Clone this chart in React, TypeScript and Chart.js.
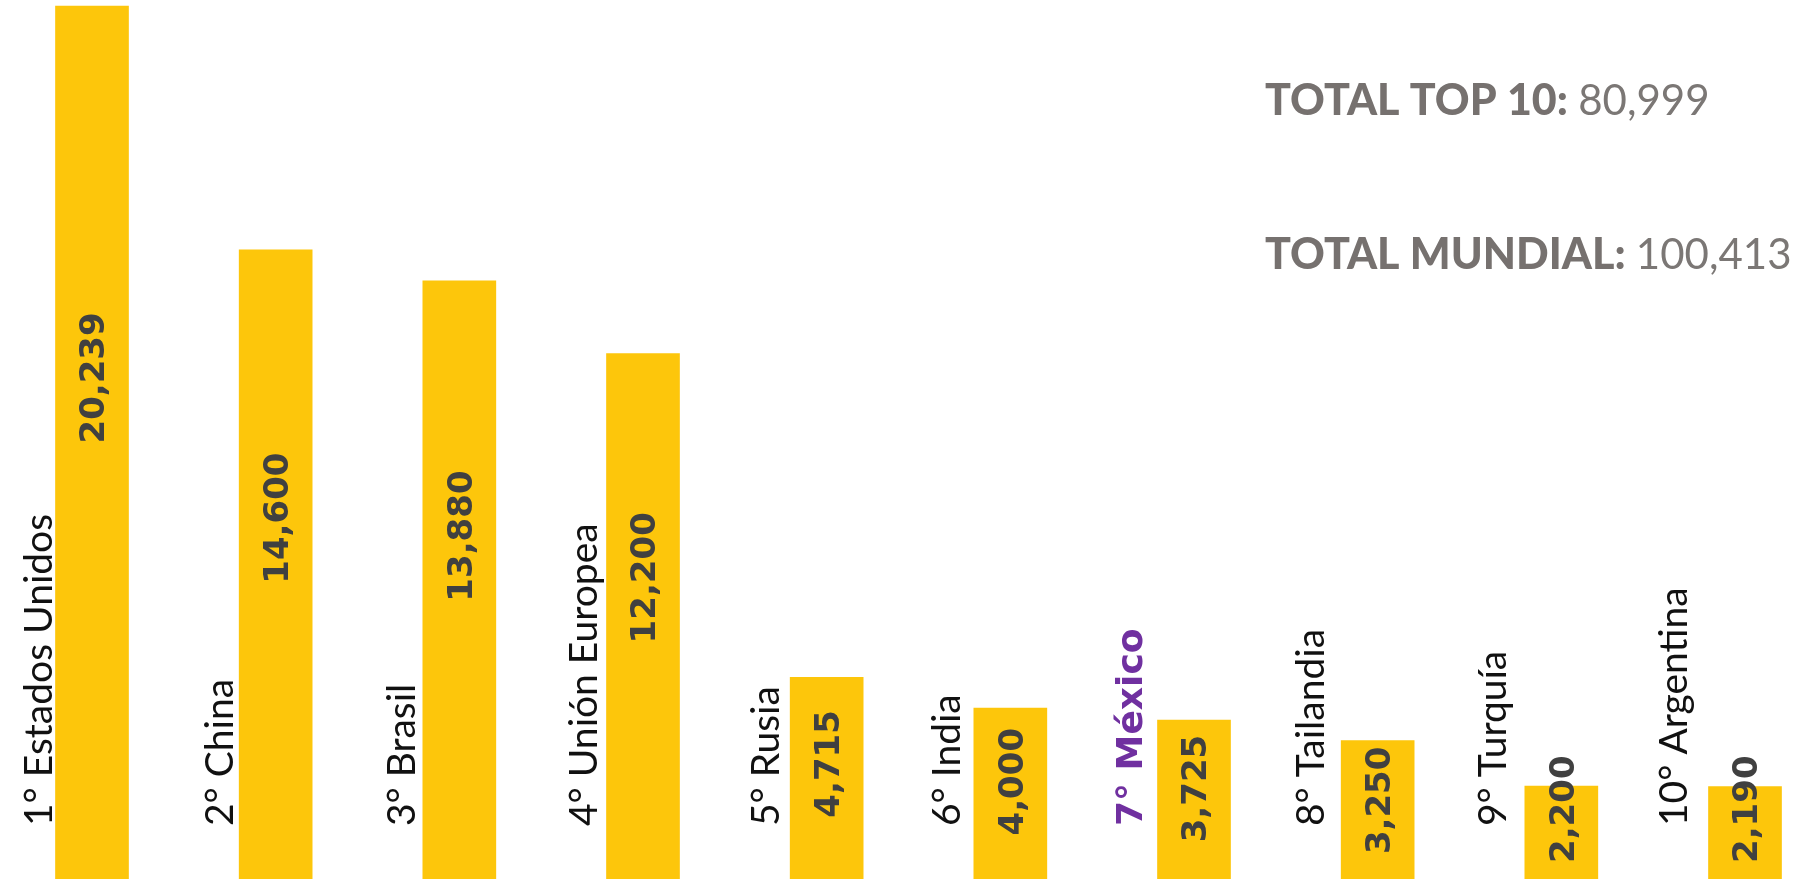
import React, { useEffect, useRef } from 'react';
import { Chart, registerables } from 'chart.js';

Chart.register(...registerables);

// ---- data ----
const ranks = ['1°', '2°', '3°', '4°', '5°', '6°', '7°', '8°', '9°', '10°'];
const countries = ['Estados Unidos', 'China', 'Brasil', 'Unión Europea', 'Rusia', 'India', 'México', 'Tailandia', 'Turquía', 'Argentina'];
const production = [20239, 14600, 13880, 12200, 4715, 4000, 3725, 3250, 2200, 2190];
const highlightCountry = 'México';
const totalMundial = 100413;
const totalTop10 = production.reduce((a, b) => a + b, 0);

const totalTop10Label = 'TOTAL TOP 10:';
const totalMundialLabel = 'TOTAL MUNDIAL:';

// ---- style ----
const BAR_COLOR = '#FDC60B';
const VALUE_COLOR = '#404040';
const LABEL_COLOR = '#111111';
const HIGHLIGHT_COLOR = '#7030A0';
const TOTAL_BOLD_COLOR = '#76716F';
const TOTAL_NUM_COLOR = '#7B7775';

const fmt = (v: number) => v.toLocaleString('en-US');

const labelsPlugin = {
  id: 'customLabels',
  afterDatasetsDraw(chart: any) {
    const ctx = chart.ctx as CanvasRenderingContext2D;
    const meta = chart.getDatasetMeta(0);
    const yScale = chart.scales.y;
    const H = chart.height;
    meta.data.forEach((bar: any, i: number) => {
      const { x, width } = bar.getProps(['x', 'width'], true);
      // value label inside bar
      ctx.save();
      ctx.font = 'bold 34px "DejaVu Sans"';
      const txt = fmt(production[i]);
      const len = ctx.measureText(txt).width;
      let cy = yScale.getPixelForValue(production[i] * 0.575);
      cy = Math.min(cy, H - 16 - len / 2);
      ctx.translate(x, cy);
      ctx.rotate(-Math.PI / 2);
      ctx.textAlign = 'center';
      ctx.textBaseline = 'alphabetic';
      ctx.fillStyle = VALUE_COLOR;
      ctx.fillText(txt, 0, 12.4);
      ctx.restore();

      // country label left of bar
      ctx.save();
      const isHi = countries[i] === highlightCountry;
      ctx.font = isHi ? 'bold 36px "DejaVu Sans"' : '39px Lato';
      ctx.fillStyle = isHi ? HIGHLIGHT_COLOR : LABEL_COLOR;
      const bx = x - width / 2 - (4 + 1.9 * i);
      ctx.translate(bx, H - 53);
      ctx.rotate(-Math.PI / 2);
      ctx.textAlign = 'left';
      ctx.textBaseline = 'alphabetic';
      ctx.fillText(`${ranks[i]} ${countries[i]}`, 0, 0);
      ctx.restore();
    });

    // totals
    const drawTotal = (label: string, value: number, y: number) => {
      ctx.save();
      ctx.textAlign = 'left';
      ctx.textBaseline = 'alphabetic';
      ctx.font = '900 43px Lato';
      ctx.fillStyle = TOTAL_BOLD_COLOR;
      ctx.fillText(label, 1265, y);
      const w = ctx.measureText(label + ' ').width;
      ctx.font = '400 42px Lato';
      ctx.fillStyle = TOTAL_NUM_COLOR;
      ctx.fillText(fmt(value), 1265 + w, y);
      ctx.restore();
    };
    drawTotal(totalTop10Label, totalTop10, 115);
    drawTotal(totalMundialLabel, totalMundial, 269);
  },
};

export default function App() {
  const canvasRef = useRef<HTMLCanvasElement | null>(null);

  useEffect(() => {
    if (!canvasRef.current) return;
    const chart = new Chart(canvasRef.current, {
      type: 'bar',
      data: {
        labels: countries,
        datasets: [
          {
            data: production,
            backgroundColor: BAR_COLOR,
            borderWidth: 0,
            barThickness: 73,
            clip: false,
          } as any,
        ],
      },
      options: {
        animation: false,
        responsive: true,
        maintainAspectRatio: false,
        layout: { padding: { left: 92, right: 53, top: 0, bottom: 0 } },
        plugins: { legend: { display: false }, tooltip: { enabled: false } },
        scales: {
          x: { display: false, offset: false, grid: { display: false } },
          y: { display: false, min: 50, max: 20377, grid: { display: false } },
        },
      },
      plugins: [labelsPlugin],
    });
    return () => chart.destroy();
  }, []);

  return (
    <div style={{ position: 'absolute', left: 0, top: 0, width: 1798, height: 879, background: '#fff' }}>
      <canvas ref={canvasRef} />
    </div>
  );
}
